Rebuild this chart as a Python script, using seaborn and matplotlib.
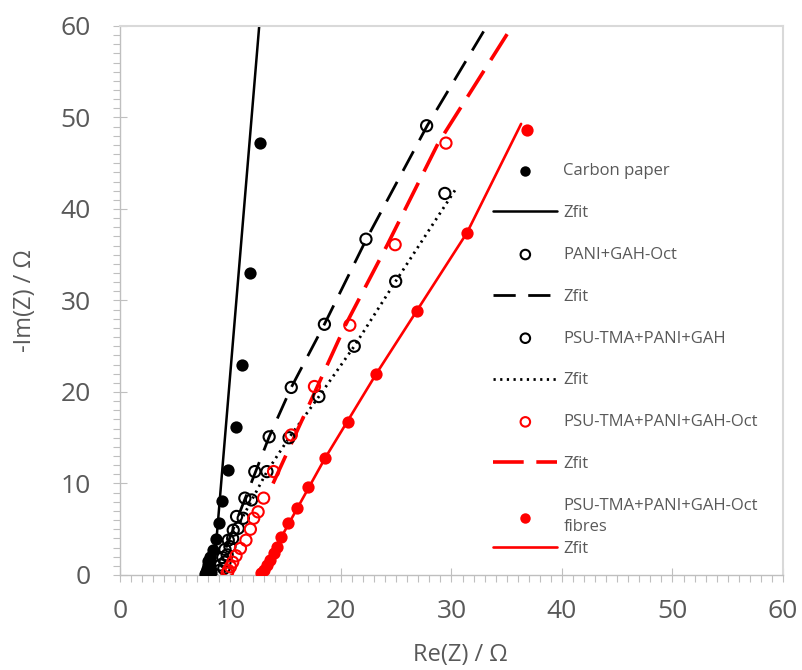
import matplotlib
matplotlib.use("Agg")
import matplotlib.pyplot as plt
from matplotlib.ticker import MultipleLocator
import seaborn as sns

# Données (Re(Z), -Im(Z) en ohm)
cp_re = [7.7, 7.75, 7.85, 8.0, 8.2, 7.95, 8.15, 8.45, 8.69, 8.99, 9.26, 9.8, 10.5, 11.0, 11.76, 12.67]
cp_im = [0.1, 0.35, 0.7, 1.1, 0.3, 1.5, 2.0, 2.7, 3.9, 5.65, 8.1, 11.5, 16.2, 23.0, 33.0, 47.2]
cp_fit_re = [8.5, 12.6]
cp_fit_im = [0.5, 60.0]

pani_re = [9.0, 9.1, 9.3, 9.5, 9.8, 10.25, 10.55, 11.3, 12.2, 13.5, 15.5, 18.5, 22.26, 27.75]
pani_im = [0.5, 1.1, 1.9, 2.8, 3.8, 4.9, 6.4, 8.4, 11.3, 15.1, 20.5, 27.4, 36.7, 49.1]
pani_fit_re = [9.6, 13.5, 15.5, 18.5, 22.3, 27.8, 33.2]
pani_fit_im = [3.0, 15.1, 20.5, 27.4, 36.7, 49.1, 60.0]

psu_re = [9.4, 9.5, 9.7, 9.95, 10.2, 10.7, 11.15, 11.9, 13.3, 15.3, 18.0, 21.2, 24.95, 29.4]
psu_im = [0.7, 1.4, 2.2, 3.1, 4.0, 5.1, 6.2, 8.2, 11.3, 15.0, 19.5, 25.0, 32.1, 41.7]
psu_fit_re = [10.3, 13.3, 15.3, 18.0, 21.2, 24.95, 30.4]
psu_fit_im = [4.5, 11.3, 15.0, 19.5, 25.0, 32.1, 42.2]

oct_re = [9.7, 9.8, 10.0, 10.2, 10.5, 10.9, 11.4, 11.8, 12.1, 12.5, 13.0, 13.9, 15.5, 17.6, 20.8, 24.9, 29.5]
oct_im = [0.2, 0.5, 0.9, 1.4, 2.1, 2.9, 3.8, 5.0, 6.2, 6.9, 8.4, 11.3, 15.3, 20.6, 27.3, 36.1, 47.2]
oct_fit_re = [13.85, 20.4, 24.2, 28.8, 35.5]
oct_fit_im = [10.0, 27.3, 36.1, 47.2, 60.0]

fib_re = [12.8, 13.0, 13.3, 13.6, 13.9, 14.2, 14.6, 15.2, 16.0, 17.04, 18.55, 20.6, 23.2, 26.85, 31.4, 36.8]
fib_im = [0.2, 0.55, 1.1, 1.6, 2.4, 3.1, 4.2, 5.65, 7.3, 9.65, 12.75, 16.75, 22.0, 28.9, 37.4, 48.6]
fib_fit_re = [12.7, 18.55, 23.2, 31.4, 36.3]
fib_fit_im = [0.0, 12.75, 22.0, 37.4, 49.3]

sns.set_style("white")
plt.rcParams['font.family'] = ['Open Sans', 'DejaVu Sans']

gris = '#595959'
bord = '#bfbfbf'

fig = plt.figure(figsize=(8.02, 6.70), dpi=100)
ax = fig.add_axes([0.1496, 0.1418, 0.8267, 0.8194])

handles = []

# Carbon paper
h = ax.scatter(cp_re, cp_im, s=78, color='black', linewidths=0, label='Carbon paper', zorder=3)
handles.append(h)
sns.lineplot(x=cp_fit_re, y=cp_fit_im, sort=False, estimator=None, color='black', lw=1.8, ax=ax)
handles.append(ax.lines[-1])
ax.lines[-1].set_label('Zfit')

# PANI+GAH-Oct
h = ax.scatter(pani_re, pani_im, s=65, facecolors='none', edgecolors='black', linewidths=1.5,
               label='PANI+GAH-Oct', zorder=3)
handles.append(h)
sns.lineplot(x=pani_fit_re, y=pani_fit_im, sort=False, estimator=None, color='black', lw=2.0,
             linestyle=(0, (8, 4.5)), ax=ax)
handles.append(ax.lines[-1])
ax.lines[-1].set_label('Zfit')

# PSU-TMA+PANI+GAH
h = ax.scatter(psu_re, psu_im, s=65, facecolors='none', edgecolors='black', linewidths=1.5,
               label='PSU-TMA+PANI+GAH', zorder=3)
handles.append(h)
sns.lineplot(x=psu_fit_re, y=psu_fit_im, sort=False, estimator=None, color='black', lw=2.0,
             linestyle=(0, (0.8, 1.6)), ax=ax)
handles.append(ax.lines[-1])
ax.lines[-1].set_label('Zfit')

# PSU-TMA+PANI+GAH-Oct
h = ax.scatter(oct_re, oct_im, s=65, facecolors='none', edgecolors='red', linewidths=1.5,
               label='PSU-TMA+PANI+GAH-Oct', zorder=3)
handles.append(h)
sns.lineplot(x=oct_fit_re, y=oct_fit_im, sort=False, estimator=None, color='red', lw=2.6,
             linestyle=(0, (8.5, 3.5)), ax=ax)
handles.append(ax.lines[-1])
ax.lines[-1].set_label('Zfit')

# fibres
h = ax.scatter(fib_re, fib_im, s=78, color='red', linewidths=0,
               label='PSU-TMA+PANI+GAH-Oct\nfibres', zorder=3)
handles.append(h)
sns.lineplot(x=fib_fit_re, y=fib_fit_im, sort=False, estimator=None, color='red', lw=1.9, ax=ax)
handles.append(ax.lines[-1])
ax.lines[-1].set_label('Zfit')

ax.set_xlim(0, 60)
ax.set_ylim(0, 60)
ax.xaxis.set_major_locator(MultipleLocator(10))
ax.yaxis.set_major_locator(MultipleLocator(10))
ax.xaxis.set_minor_locator(MultipleLocator(1))
ax.yaxis.set_minor_locator(MultipleLocator(1))
ax.tick_params(which='major', direction='inout', length=10, width=0.8, color=bord,
               labelsize=19, labelcolor=gris)
ax.tick_params(axis='x', which='major', pad=12)
ax.tick_params(axis='y', which='major', pad=16)
ax.tick_params(which='minor', direction='out', length=5, width=0.8, color=bord)
ax.tick_params(bottom=True, left=True, which='both')

for s in ['left', 'bottom']:
    ax.spines[s].set_color(bord)
    ax.spines[s].set_linewidth(1)
for s in ['top', 'right']:
    ax.spines[s].set_visible(True)
    ax.spines[s].set_color('#d9d9d9')
    ax.spines[s].set_linewidth(1.5)

ax.set_xlabel('Re(Z) / Ω', fontsize=17, color=gris, labelpad=14)
ax.xaxis.label.set_x(0.514)
ax.set_ylabel('-Im(Z) / Ω', fontsize=17, color=gris, labelpad=17)

opts = dict(loc='upper left', frameon=False, fontsize=12, borderpad=0, borderaxespad=0,
            handlelength=3.85, handletextpad=0.36, labelspacing=1.55, markerscale=0.85,
            scatterpoints=1)
leg1 = ax.legend(handles=handles[:-1], labels=[hh.get_label() for hh in handles[:-1]],
                 bbox_to_anchor=(0.563, 0.75), **opts)
for t in leg1.get_texts():
    t.set_color(gris)
leg1.get_texts()[-1].set_linespacing(1.45)
ax.add_artist(leg1)
leg2 = ax.legend(handles=handles[-1:], labels=['Zfit'], bbox_to_anchor=(0.563, 0.062), **opts)
for t in leg2.get_texts():
    t.set_color(gris)

fig.savefig('out.png', dpi=100)
